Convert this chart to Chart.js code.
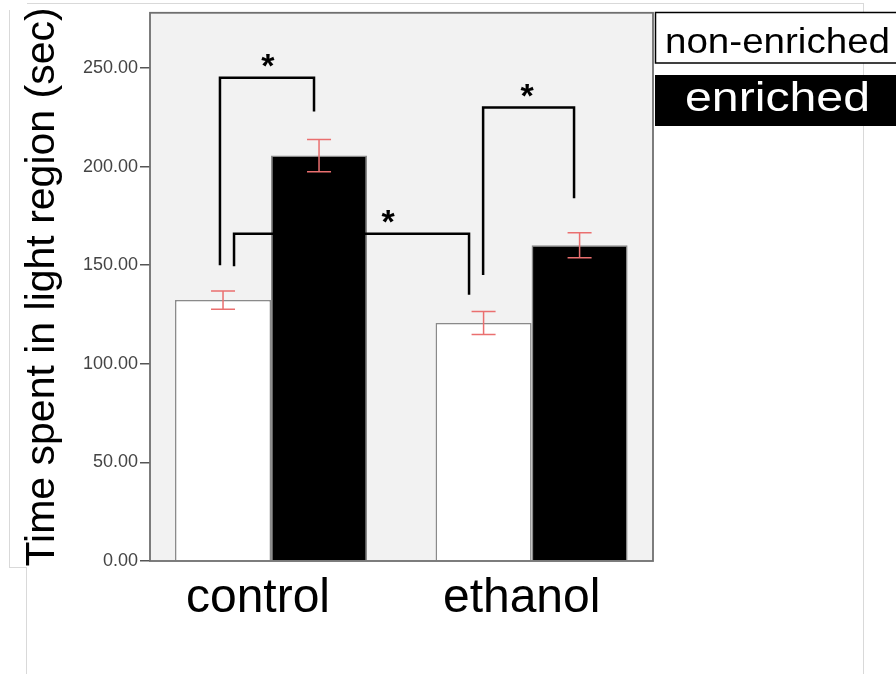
<!DOCTYPE html>
<html><head><meta charset="utf-8">
<script src="https://cdn.jsdelivr.net/npm/chart.js@4/dist/chart.umd.min.js"></script>
<style>
html,body{margin:0;padding:0;background:#fff;}
#wrap{position:relative;width:896px;height:674px;overflow:hidden;}
canvas{position:absolute;left:0;top:0;}
.fr{position:absolute;background:#d9d9d9;}
</style></head><body>
<div id="wrap">
<div class="fr" style="left:27px;top:3px;width:836px;height:1px"></div>
<div class="fr" style="left:863px;top:3px;width:1px;height:671px"></div>
<div class="fr" style="left:9px;top:10px;width:1px;height:557px"></div>
<div class="fr" style="left:9px;top:567px;width:17px;height:1px"></div>
<div class="fr" style="left:26px;top:567px;width:1px;height:107px"></div>
<canvas id="c" width="896" height="674"></canvas>
</div>
<script>
// ---- data ----
const categories = ['control', 'ethanol'];
const seriesNames = ['non-enriched', 'enriched'];
const nonEnriched = [132.3, 120.7];
const enriched = [205.6, 160.1];
const nonEnrichedErr = [4.6, 5.8];
const enrichedErr = [8.2, 6.3];
const yTicks = [0, 50, 100, 150, 200, 250];
const yTitle = 'Time spent in light region (sec)';
// significance brackets (x in category units, y in data units)
const bracketXLeft = [-0.196, -0.142, 0.814];
const bracketXRight = [0.165, 0.760, 1.163];
const bracketYLeftEnd = [150, 149.5, 145];
const bracketYRightEnd = [228, 135, 184];
const bracketYTop = [245, 166, 230];
const starX = [-0.012, 0.449, 0.983];
const starText = ['*', '*', '*'];

const seriesValues = [nonEnriched, enriched];
const seriesErr = [nonEnrichedErr, enrichedErr];
const seriesFill = ['#ffffff', '#000000'];

const bgPlugin = {
  id: 'bg',
  beforeDraw(chart) {
    const {ctx, chartArea: a} = chart;
    ctx.save();
    ctx.fillStyle = '#f2f2f2';
    ctx.fillRect(a.left, a.top, a.right - a.left, a.bottom - a.top);
    ctx.restore();
  },
  afterDatasetsDraw(chart) {
    const {ctx, chartArea: a, scales: {x, y}} = chart;
    ctx.save();
    // plot frame
    ctx.strokeStyle = '#6f6f6f';
    ctx.lineWidth = 1.8;
    ctx.strokeRect(a.left, a.top, a.right - a.left, a.bottom - a.top);
    // error bars
    ctx.strokeStyle = '#ea6f6f';
    ctx.lineWidth = 1.5;
    chart.data.datasets.forEach((ds, di) => {
      const meta = chart.getDatasetMeta(di);
      meta.data.forEach((bar, i) => {
        const v = seriesValues[di][i], e = seriesErr[di][i];
        const yt = y.getPixelForValue(v + e), yb = y.getPixelForValue(v - e);
        const cx = bar.x, hw = 12;
        ctx.beginPath();
        ctx.moveTo(cx, yt); ctx.lineTo(cx, yb);
        ctx.moveTo(cx - hw, yt); ctx.lineTo(cx + hw, yt);
        ctx.moveTo(cx - hw, yb); ctx.lineTo(cx + hw, yb);
        ctx.stroke();
      });
    });
    // significance brackets
    ctx.strokeStyle = '#000';
    ctx.lineWidth = 2.5;
    ctx.lineCap = 'butt';
    ctx.lineJoin = 'miter';
    const starSize = 34;
    ctx.font = 'bold ' + starSize + 'px "Liberation Sans", Arial, sans-serif';
    ctx.textAlign = 'center';
    ctx.textBaseline = 'alphabetic';
    ctx.fillStyle = '#000';
    for (let k = 0; k < bracketXLeft.length; k++) {
      const xl = x.getPixelForValue(bracketXLeft[k]);
      const xr = x.getPixelForValue(bracketXRight[k]);
      const yt = y.getPixelForValue(bracketYTop[k]);
      ctx.beginPath();
      ctx.moveTo(xl, y.getPixelForValue(bracketYLeftEnd[k]));
      ctx.lineTo(xl, yt);
      ctx.lineTo(xr, yt);
      ctx.lineTo(xr, y.getPixelForValue(bracketYRightEnd[k]));
      ctx.stroke();
      const sx = x.getPixelForValue(starX[k]);
      ctx.fillText(starText[k], sx, yt - 20 + 0.575 * starSize);
    }
    ctx.restore();
  },
  afterDraw(chart) {
    const {ctx} = chart;
    ctx.save();
    function stretched(text, x0, base, size, targetW, color) {
      ctx.font = size + 'px "Liberation Sans", Arial, sans-serif';
      const w = ctx.measureText(text).width;
      ctx.save();
      ctx.translate(x0, base);
      ctx.scale(targetW / w, 1);
      ctx.fillStyle = color;
      ctx.textAlign = 'left';
      ctx.textBaseline = 'alphabetic';
      ctx.fillText(text, 0, 0);
      ctx.restore();
    }
    // legend box 1
    ctx.fillStyle = '#fff';
    ctx.fillRect(655, 12, 260, 51);
    ctx.strokeStyle = '#000';
    ctx.lineWidth = 1.5;
    ctx.strokeRect(655.5, 12.5, 260, 50.5);
    stretched(seriesNames[0], 665, 53, 35, 225, '#000');
    // legend box 2
    ctx.fillStyle = seriesFill[1];
    ctx.fillRect(655, 75, 260, 51);
    stretched(seriesNames[1], 685, 111, 41, 185, '#fff');
    ctx.restore();
  }
};

new Chart(document.getElementById('c'), {
  type: 'bar',
  data: {
    datasets: seriesNames.map((n, di) => ({
      label: n,
      data: seriesValues[di].map((v, i) => ({x: i, y: v})),
      backgroundColor: seriesFill[di],
      borderColor: '#8a8a8a',
      borderWidth: 1.5,
      borderSkipped: 'bottom',
      categoryPercentage: 0.737,
      barPercentage: 1.0
    }))
  },
  options: {
    responsive: false,
    animation: false,
    events: [],
    layout: {padding: {left: 0, top: 12, right: 243, bottom: 0}},
    plugins: {legend: {display: false}, tooltip: {enabled: false}},
    scales: {
      x: {
        type: 'linear', min: -0.4645, max: 1.466, offset: false,
        grid: {display: false, drawTicks: false, tickLength: 0},
        border: {display: false},
        // labels sit slightly left of the bar-group centres in the original
        afterBuildTicks: s => { s.ticks = categories.map((c, i) => ({value: i - 0.05 + 0.012 * i})); },
        ticks: {
          callback: (v, i) => categories[i] ?? '',
          font: {family: '"Liberation Sans", Arial, sans-serif', size: 48},
          color: '#000', padding: 9, autoSkip: false, maxRotation: 0
        },
        afterFit: s => { s.height = 113; }
      },
      y: {
        min: 0, max: 278,
        afterBuildTicks: s => { s.ticks = yTicks.map(v => ({value: v})); },
        ticks: {
          callback: v => Number(v).toFixed(2),
          font: {family: '"Liberation Sans", Arial, sans-serif', size: 18},
          color: '#444', padding: 2
        },
        grid: {drawOnChartArea: false, tickLength: 10, color: '#555', lineWidth: 1.5},
        border: {display: false},
        title: {
          display: true, text: yTitle,
          font: {family: '"Liberation Sans", Arial, sans-serif', size: 41},
          color: '#000', padding: {top: 18, bottom: 0}
        },
        afterFit: s => { s.width = 150; }
      }
    }
  },
  plugins: [bgPlugin]
});
</script>
</body></html>
